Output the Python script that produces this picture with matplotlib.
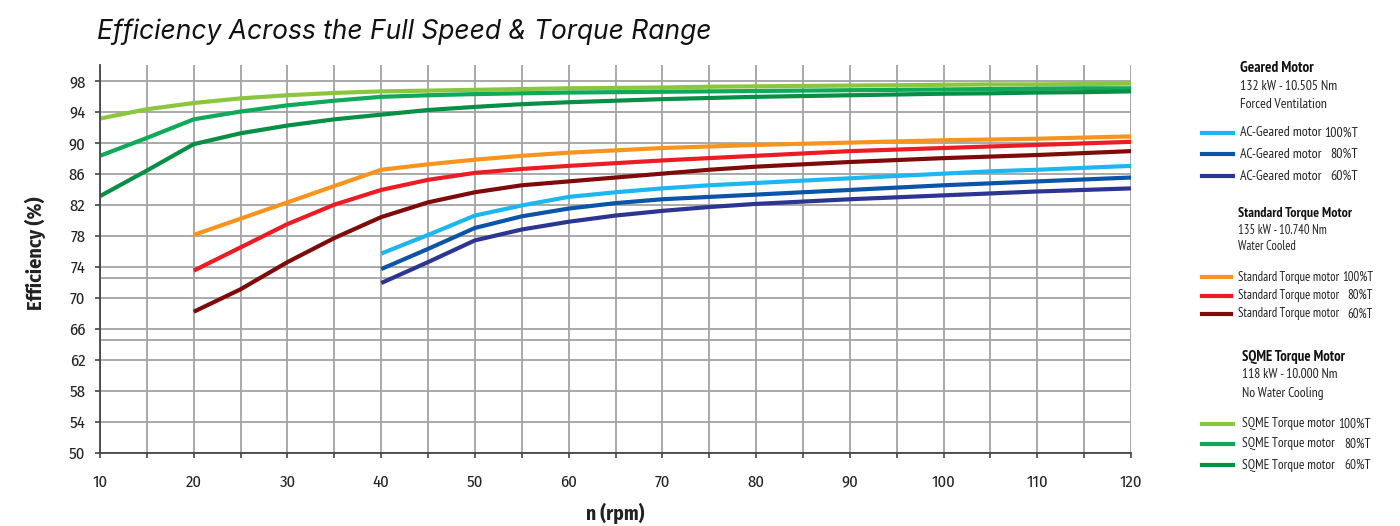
import matplotlib
matplotlib.use("Agg")
import matplotlib.pyplot as plt
from matplotlib.lines import Line2D
from matplotlib.ticker import MultipleLocator, FixedLocator

# ---------------- data ----------------
rpm_sqme = [10, 15, 20, 25, 30, 35, 40, 45, 50, 55, 60, 65, 70, 75, 80, 85, 90, 95, 100, 105, 110, 115, 120]
sqme_100 = [93.1, 94.3, 95.1, 95.7, 96.1, 96.4, 96.6, 96.7, 96.8, 96.9, 97.0, 97.05, 97.1, 97.2, 97.25, 97.3, 97.35, 97.4, 97.45, 97.5, 97.5, 97.55, 97.6]
sqme_80 = [88.3, 90.6, 93.0, 94.0, 94.8, 95.4, 95.9, 96.1, 96.25, 96.35, 96.45, 96.5, 96.55, 96.6, 96.65, 96.7, 96.75, 96.8, 96.85, 96.9, 96.95, 97.0, 97.0]
sqme_60 = [83.1, 86.4, 89.8, 91.2, 92.2, 93.0, 93.6, 94.2, 94.6, 94.95, 95.2, 95.4, 95.6, 95.75, 95.9, 96.0, 96.1, 96.2, 96.3, 96.35, 96.45, 96.5, 96.6]

rpm_std = [20, 25, 30, 35, 40, 45, 50, 55, 60, 65, 70, 75, 80, 85, 90, 95, 100, 105, 110, 115, 120]
std_100 = [78.1, 80.2, 82.3, 84.4, 86.5, 87.2, 87.8, 88.3, 88.7, 89.0, 89.3, 89.5, 89.7, 89.85, 90.0, 90.15, 90.3, 90.4, 90.5, 90.65, 90.8]
std_80 = [73.5, 76.5, 79.5, 82.0, 83.9, 85.2, 86.1, 86.6, 87.0, 87.35, 87.7, 88.0, 88.3, 88.6, 88.9, 89.1, 89.3, 89.5, 89.7, 89.9, 90.1]
std_60 = [68.2, 71.1, 74.6, 77.7, 80.4, 82.3, 83.6, 84.5, 85.0, 85.5, 86.0, 86.5, 86.9, 87.2, 87.5, 87.75, 88.0, 88.2, 88.4, 88.65, 88.9]

rpm_ac = [40, 45, 50, 55, 60, 65, 70, 75, 80, 85, 90, 95, 100, 105, 110, 115, 120]
ac_100 = [75.7, 78.1, 80.6, 81.9, 83.0, 83.6, 84.1, 84.5, 84.8, 85.1, 85.4, 85.7, 86.0, 86.3, 86.5, 86.75, 87.0]
ac_80 = [73.7, 76.3, 79.0, 80.5, 81.5, 82.2, 82.7, 83.0, 83.3, 83.6, 83.9, 84.2, 84.5, 84.75, 85.0, 85.25, 85.5]
ac_60 = [71.9, 74.6, 77.4, 78.8, 79.8, 80.6, 81.2, 81.7, 82.1, 82.4, 82.7, 82.95, 83.2, 83.45, 83.7, 83.9, 84.1]

y_ticks = [50, 54, 58, 62, 66, 70, 74, 78, 82, 86, 90, 94, 98]
extra_grid_y = [64.5, 72.5]
x_ticks = [10, 20, 30, 40, 50, 60, 70, 80, 90, 100, 110, 120]

group_titles = ["Geared Motor", "Standard Torque Motor", "SQME Torque Motor"]
group_subs = [["132 kW - 10.505 Nm", "Forced Ventilation"],
              ["135 kW - 10.740 Nm", "Water Cooled"],
              ["118 kW - 10.000 Nm", "No Water Cooling"]]
series_names = ["AC-Geared motor", "Standard Torque motor", "SQME Torque motor"]
torque_levels = ["100%T", "80%T", "60%T"]
series_x = [rpm_ac, rpm_std, rpm_sqme]
series_y = [[ac_100, ac_80, ac_60], [std_100, std_80, std_60], [sqme_100, sqme_80, sqme_60]]
series_colors = [["#1CB6F0", "#0B55A8", "#2D3592"],
                 ["#F7941D", "#ED1C24", "#7F0A0A"],
                 ["#8CC63F", "#0FA95A", "#078F45"]]

# legend layout (pixels in the 1400x526 picture)
lg_x0 = [1240, 1238, 1242]
lg_title_y = [68, 214, 357]
lg_sub_y = [[87, 104], [231, 247], [375, 393]]
lg_item_y = [[133, 154, 176], [277, 295.5, 314], [424, 444, 465]]
lg_title_w = [74, 114, 104]
lg_sub_w = [98, 89, 96]
lg_pct_end = [1358, 1373, 1371]
lg_line = [(1202, 1233), (1202, 1231), (1202, 1233)]

NARROW = ["Fira Sans Condensed", "Roboto Condensed", "DejaVu Sans"]
LEGEND_FONT = ["PT Sans Narrow", "Roboto Condensed", "Fira Sans Condensed", "DejaVu Sans"]
plt.rcParams["font.family"] = NARROW

W, H = 1400, 526
fig = plt.figure(figsize=(W / 100, H / 100), dpi=100)
ax = fig.add_axes([100 / W, 1 - 453 / H, (1131 - 100) / W, (453 - 65) / H])
renderer = fig.canvas.get_renderer()


def fy(py):
    return 1 - py / H


def fit_size(text, target_px, weight="normal"):
    t = fig.text(0, 0, text, fontsize=10, fontweight=weight, family=LEGEND_FONT)
    w = t.get_window_extent(renderer=renderer).width
    t.remove()
    return 10 * target_px / w


grid_c = "#A3A3A3"
for gi in range(3):
    for si in range(3):
        ax.plot(series_x[gi], series_y[gi][si], color=series_colors[gi][si],
                lw=3.0, solid_capstyle="butt", zorder=3)

ax.set_xlim(10, 120)
ax.set_ylim(50, 100)
ax.xaxis.set_major_locator(FixedLocator(x_ticks))
ax.xaxis.set_minor_locator(MultipleLocator(5))
ax.yaxis.set_major_locator(FixedLocator(y_ticks))
ax.grid(True, which="both", axis="x", color=grid_c, lw=1.3, zorder=1)
ax.grid(True, which="major", axis="y", color=grid_c, lw=1.3, zorder=1)
for yv in extra_grid_y:
    ax.axhline(yv, color=grid_c, lw=1.3, zorder=1)

for s in ["top", "right"]:
    ax.spines[s].set_visible(False)
for s in ["left", "bottom"]:
    ax.spines[s].set_color("#444444")
    ax.spines[s].set_linewidth(1.3)
    ax.spines[s].set_zorder(4)

ax.tick_params(axis="x", which="both", direction="out", length=3.5, width=1.2,
               color="#444444", pad=11.5, labelsize=12, labelcolor="#222222")
ax.tick_params(axis="y", which="major", direction="out", length=3.5, width=1.2,
               color="#444444", pad=7, labelsize=12, labelcolor="#222222")

ax.set_xlabel("n (rpm)", fontsize=14, fontweight="bold", color="#222222", va="center")
ax.set_ylabel("Efficiency (%)", fontsize=14.5, fontweight="bold", color="#222222", va="center")
ax.xaxis.set_label_coords(0.5, (453 - 513) / 388)
ax.yaxis.set_label_coords((35 - 100) / 1031, (453 - 253) / 388)

fig.text(97 / W, fy(32), "Efficiency Across the Full Speed & Torque Range",
         fontsize=19, style="italic", family=["Inter", "Lato", "DejaVu Sans"],
         color="#111111", va="center", ha="left")

# ---------------- legend (manual) ----------------
for gi in range(3):
    x0 = lg_x0[gi]
    ts = fit_size(group_titles[gi], lg_title_w[gi], "bold")
    fig.text(x0 / W, fy(lg_title_y[gi]), group_titles[gi], fontsize=ts, family=LEGEND_FONT,
             fontweight="bold", color="#111111", va="center", ha="left")
    ss = fit_size(group_subs[gi][0], lg_sub_w[gi])
    for si, s in enumerate(group_subs[gi]):
        fig.text(x0 / W, fy(lg_sub_y[gi][si]), s, fontsize=ss, family=LEGEND_FONT,
                 color="#222222", va="center", ha="left")
    ns = fit_size(series_names[gi] + " " + torque_levels[0], lg_pct_end[gi] - x0)
    for ii in range(3):
        yy = lg_item_y[gi][ii]
        fig.add_artist(Line2D([lg_line[gi][0] / W, lg_line[gi][1] / W], [fy(yy), fy(yy)],
                              color=series_colors[gi][ii], lw=3.0, transform=fig.transFigure))
        fig.text(x0 / W, fy(yy), series_names[gi], fontsize=ns, color="#222222",
                 family=LEGEND_FONT, va="center", ha="left")
        fig.text(lg_pct_end[gi] / W, fy(yy), torque_levels[ii], fontsize=ns,
                 family=LEGEND_FONT, color="#222222", va="center", ha="right")

fig.savefig("out.png", dpi=100, facecolor="white")
